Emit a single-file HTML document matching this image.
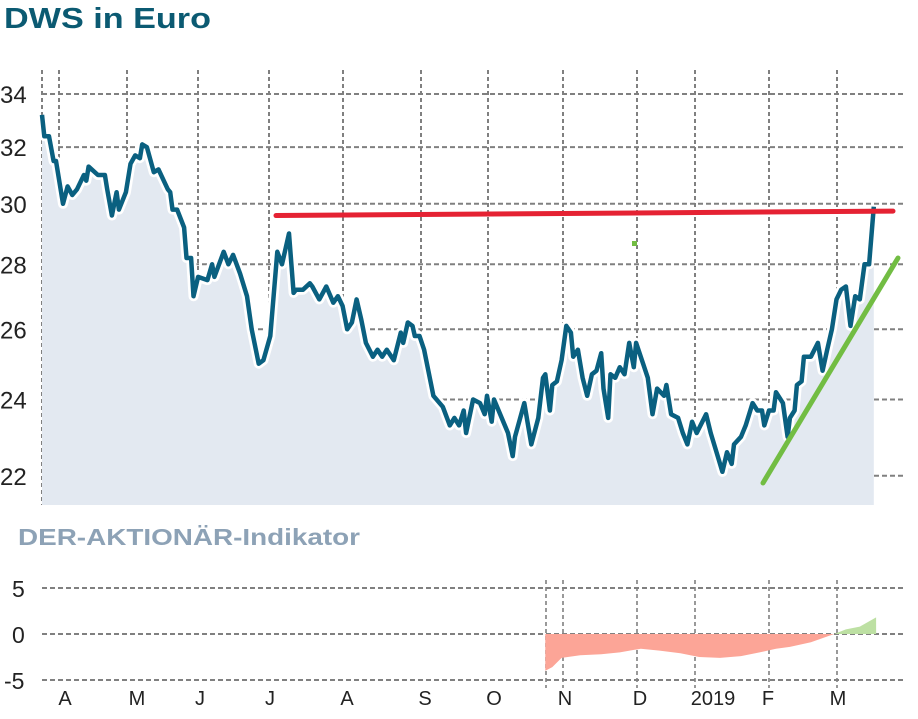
<!DOCTYPE html>
<html><head><meta charset="utf-8"><style>
body{margin:0;background:#fff;width:918px;height:714px;overflow:hidden;font-family:"Liberation Sans",sans-serif}
</style></head><body>
<svg id="c" width="918" height="714" xmlns="http://www.w3.org/2000/svg">
<text x="4" y="28" font-size="29" font-weight="bold" fill="#0b5a72" textLength="207" lengthAdjust="spacingAndGlyphs">DWS in Euro</text>
<text x="18" y="545" font-size="23" font-weight="bold" fill="#8da2b6" textLength="342" lengthAdjust="spacingAndGlyphs">DER-AKTIONÄR-Indikator</text>
<g id="grid"></g><g id="main"></g><g id="low"></g><g id="labels"></g>
</svg>
<script>
const days=[0,1,3,5,6,9,11,13,15,18,19,20,24,27,28,30,32,33,36,38,40,42,43,45,48,50,54,55,56,58,61,62,64,65,67,71,73,74,78,80,82,85,88,90,93,95,98,101,103,106,108,109,112,115,116,119,122,125,127,129,131,133,135,137,139,142,144,146,148,151,154,155,157,159,160,162,164,168,172,175,177,179,181,182,185,188,190,191,193,194,200,202,203,207,210,213,215,216,218,219,221,223,225,227,228,230,232,234,236,238,240,241,243,244,246,248,250,252,254,255,258,260,262,264,267,268,270,273,275,277,279,281,285,287,290,292,294,296,297,300,302,305,307,309,310,312,314,315,318,320,321,323,324,326,327,330,333,335,337,339,341,343,345,347,349,351,353,354,355,357];
const prices=[33.2,32.4,32.4,31.5,31.5,30.0,30.6,30.3,30.5,31.0,30.8,31.3,31.0,31.0,30.5,29.6,30.4,29.8,30.4,31.4,31.7,31.6,32.1,32.0,31.1,31.2,30.5,30.4,29.8,29.8,29.2,28.2,28.2,27.0,27.6,27.5,28.0,27.6,28.4,28.0,28.3,27.7,27.0,26.0,25.0,25.1,25.8,28.4,28.0,29.0,27.1,27.2,27.2,27.4,27.3,26.9,27.3,26.8,27.0,26.7,26.0,26.2,26.9,26.3,25.6,25.2,25.4,25.2,25.4,25.1,25.9,25.6,26.2,26.1,25.8,25.8,25.4,24.1,23.8,23.3,23.5,23.3,23.7,23.1,24.0,23.9,23.6,24.1,23.4,24.0,23.1,22.5,23.0,23.9,22.8,23.5,24.6,24.7,23.7,24.4,24.5,25.1,26.1,25.9,25.2,25.4,24.6,24.1,24.7,24.8,25.3,24.3,23.5,24.7,24.6,24.9,24.7,25.6,24.9,25.6,25.0,24.6,23.6,24.3,24.1,24.4,23.6,23.5,23.1,22.8,23.4,23.1,23.6,23.1,22.5,22.1,22.6,22.3,22.8,23.0,23.3,23.9,23.7,23.7,23.3,23.7,23.7,24.2,23.9,23.0,23.5,23.7,24.4,24.5,25.2,25.2,25.6,24.8,25.4,26.0,26.9,27.2,27.3,26.1,27.0,26.9,28.0,28.0,28.0,29.9];
const indDays=[216,219,223,231,240,248,257,265,274,282,291,300,308,315,321,330,340,345,351,358];
const indVals=[-4.0,-3.6,-2.6,-2.3,-2.2,-2.0,-1.6,-1.8,-2.1,-2.5,-2.6,-2.4,-2.0,-1.6,-1.4,-0.9,0,0.5,0.8,1.8];
const yTicks=[34,32,30,28,26,24,22];
const lowTicks=[5,0,-5];
const monthLabels=["A","M","J","J","A","S","O","N","D","2019","F","M"];
const resistance=[29.6,29.75];
const NS="http://www.w3.org/2000/svg";
const X=d=>42+d*2.33;
const Y=v=>94+877*Math.log(34/v);
const YL=v=>634-v*9.2;
function mk(t,a,p){const e=document.createElementNS(NS,t);for(const k in a)e.setAttribute(k,a[k]);p.appendChild(e);return e;}
const grid=document.getElementById('grid'),main=document.getElementById('main'),low=document.getElementById('low'),lab=document.getElementById('labels');
const vx=[42,59,127,198,269,343,421,488,563,637,695,769,837];
vx.forEach(x=>{const l=mk('line',{x1:x,x2:x,y1:70,y2:505,stroke:'#808080','stroke-width':2,'stroke-dasharray':'4,3'},grid);
});
yTicks.forEach(v=>{const l=mk('line',{x1:42,x2:905,y1:Y(v),y2:Y(v),stroke:'#808080','stroke-width':2,'stroke-dasharray':'5,3'},grid);

const t=mk('text',{x:0,y:Y(v)+9,'font-size':24,fill:'#222'},lab);t.textContent=v;
});
let pts=days.map((d,i)=>X(d).toFixed(1)+','+Y(prices[i]).toFixed(1));
const area=mk('path',{d:'M'+X(days[0])+',505L'+pts.join('L')+'L'+X(days[days.length-1])+',505Z',fill:'#e3e9f1'},main);

const halo=mk('polyline',{points:pts.join(' '),fill:'none',stroke:'#fff','stroke-width':10,'stroke-linejoin':'round'},main);

const line=mk('polyline',{points:pts.join(' '),fill:'none',stroke:'#0a6080','stroke-width':4.5,'stroke-linejoin':'round'},main);

const red=mk('line',{x1:276,x2:893,y1:Y(resistance[0]),y2:Y(resistance[1]),stroke:'#e52233','stroke-width':5,'stroke-linecap':'round'},main);

const gr=mk('line',{x1:763,y1:483,x2:898,y2:258,stroke:'#72bd43','stroke-width':5,'stroke-linecap':'round'},main);

const dot=mk('rect',{x:632,y:241,width:5,height:5,fill:'#72bd43'},main);

[546,563,637,695,769,837].forEach(x=>{const l=mk('line',{x1:x,x2:x,y1:580,y2:688,stroke:'#808080','stroke-width':1.6,'stroke-dasharray':'4,3'},low);
});
lowTicks.forEach(v=>{const l=mk('line',{x1:42,x2:905,y1:YL(v),y2:YL(v),stroke:'#808080','stroke-width':2,'stroke-dasharray':'5,3'},low);

const t=mk('text',{x:v<0?4:12,y:YL(v)+9,'font-size':23,fill:'#222'},lab);t.textContent=v;
});
const defs=mk('defs',{},low);
const c1=mk('clipPath',{id:'neg'},defs);mk('rect',{x:0,y:YL(0),width:918,height:100},c1);
const c2=mk('clipPath',{id:'pos'},defs);mk('rect',{x:0,y:0,width:918,height:YL(0)},c2);
const ip=indDays.map((d,i)=>X(d).toFixed(1)+','+YL(indVals[i]).toFixed(1));
const ad='M'+X(indDays[0])+','+YL(0)+'L'+ip.join('L')+'L'+X(indDays[indDays.length-1])+','+YL(0)+'Z';
const an=mk('path',{d:ad,fill:'#fca597','clip-path':'url(#neg)'},low);

const ap=mk('path',{d:ad,fill:'#bde0a3','clip-path':'url(#pos)'},low);

const mx=[65,137,200,270,347,425,494,565,640,713,768,838];
monthLabels.forEach((m,i)=>{const t=mk('text',{x:mx[i],y:705,'font-size':20,fill:'#222','text-anchor':'middle'},lab);t.textContent=m;
});
</script>
</body></html>
